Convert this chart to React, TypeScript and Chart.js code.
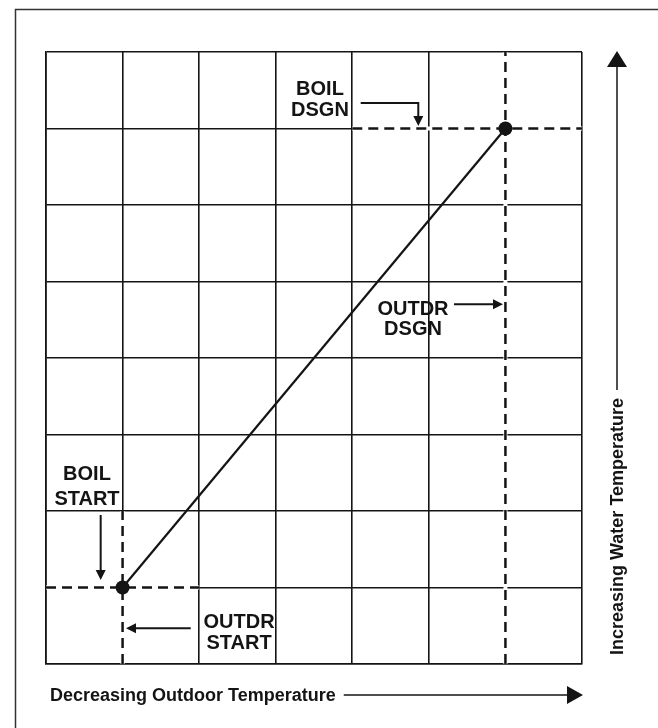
import { useEffect, useRef } from "react";
import { Chart, registerables } from "chart.js";

Chart.register(...registerables);

// ---- data ----
const gridColumns = 7;
const gridRows = 8;
const pointLabels = ["START", "DSGN"];
const outdoorTemps = [1, 6]; // start, design (decreasing outdoor temperature units)
const waterTemps = [1, 7]; // start, design (increasing water temperature units)
const axisTitleX = "Decreasing Outdoor Temperature";
const axisTitleY = "Increasing Water Temperature";
const calloutTexts = [
  ["BOIL", "DSGN"],
  ["OUTDR", "DSGN"],
  ["BOIL", "START"],
  ["OUTDR", "START"],
];
// dashed guide segments [x1, y1, x2, y2]
const guideSegments = [
  [outdoorTemps[0], 0, outdoorTemps[0], 2],
  [0, waterTemps[0], 2, waterTemps[0]],
  [outdoorTemps[1], 0, outdoorTemps[1], gridRows],
  [4, waterTemps[1], gridColumns, waterTemps[1]],
];

// ---- layout (data units) ----
const calloutPos = [
  { x: 3.578, y: [7.529, 7.261] },
  { x: 4.793, y: [4.654, 4.399] },
  { x: 0.535, y: [2.503, 2.17] },
  { x: 2.521, y: [0.569, 0.294] },
];
const calloutArrows = [
  [[4.11, 7.333], [4.862, 7.333], [4.862, 7.033]],
  [[5.328, 4.702], [5.968, 4.702]],
  [[0.714, 1.948], [0.714, 1.098]],
  [[1.89, 0.467], [1.045, 0.467]],
];

const INK = "#141414";
const FONT = '"Liberation Sans", Arial, Helvetica, sans-serif';

function drawArrow(
  ctx: CanvasRenderingContext2D,
  pts: number[][],
  headLen: number,
  headHalf: number,
  lw: number
) {
  ctx.save();
  ctx.strokeStyle = INK;
  ctx.fillStyle = INK;
  ctx.lineWidth = lw;
  ctx.lineCap = "butt";
  ctx.lineJoin = "miter";
  const n = pts.length;
  const [ex, ey] = pts[n - 1];
  const [px, py] = pts[n - 2];
  const dx = ex - px;
  const dy = ey - py;
  const len = Math.hypot(dx, dy);
  const ux = dx / len;
  const uy = dy / len;
  ctx.beginPath();
  ctx.moveTo(pts[0][0], pts[0][1]);
  for (let i = 1; i < n - 1; i++) ctx.lineTo(pts[i][0], pts[i][1]);
  ctx.lineTo(ex - ux * headLen * 0.8, ey - uy * headLen * 0.8);
  ctx.stroke();
  const bx = ex - ux * headLen;
  const by = ey - uy * headLen;
  ctx.beginPath();
  ctx.moveTo(ex, ey);
  ctx.lineTo(bx - uy * headHalf, by + ux * headHalf);
  ctx.lineTo(bx + uy * headHalf, by - ux * headHalf);
  ctx.closePath();
  ctx.fill();
  ctx.restore();
}

const decorPlugin = {
  id: "decor",
  beforeDraw(chart: any) {
    const ctx = chart.ctx as CanvasRenderingContext2D;
    ctx.save();
    ctx.fillStyle = "#ffffff";
    ctx.fillRect(0, 0, chart.width, chart.height);
    ctx.strokeStyle = "#333333";
    ctx.lineWidth = 1.5;
    ctx.strokeRect(15.5, 9.5, chart.width + 100, chart.height + 100);
    ctx.restore();
  },
  afterDraw(chart: any) {
    const ctx = chart.ctx as CanvasRenderingContext2D;
    const xs = chart.scales.x;
    const ys = chart.scales.y;
    const area = chart.chartArea;
    const fx = (v: number) => xs.getPixelForValue(v);
    const fy = (v: number) => ys.getPixelForValue(v);

    // callout labels
    ctx.save();
    ctx.fillStyle = INK;
    ctx.font = `bold 20px ${FONT}`;
    ctx.textAlign = "center";
    ctx.textBaseline = "alphabetic";
    calloutTexts.forEach((lines, i) => {
      const p = calloutPos[i];
      lines.forEach((t, j) => {
        ctx.fillText(t, fx(p.x), fy(p.y[j]) + 7.2);
      });
    });
    ctx.restore();

    // callout arrows
    calloutArrows.forEach((a) => {
      drawArrow(
        ctx,
        a.map(([x, y]) => [fx(x), fy(y)]),
        10,
        5,
        2
      );
    });

    // bottom axis title + arrow
    ctx.save();
    ctx.fillStyle = INK;
    ctx.font = `bold 18px ${FONT}`;
    ctx.textAlign = "left";
    ctx.textBaseline = "alphabetic";
    const tx = area.left + 4;
    const tBase = area.bottom + 37;
    ctx.fillText(axisTitleX, tx, tBase);
    const tw = ctx.measureText(axisTitleX).width;
    ctx.restore();
    drawArrow(
      ctx,
      [
        [tx + tw + 8, tBase - 6],
        [area.right + 1, tBase - 6],
      ],
      16,
      9,
      1.5
    );

    // right axis title + arrow
    ctx.save();
    ctx.fillStyle = INK;
    ctx.font = `bold 18px ${FONT}`;
    ctx.textAlign = "left";
    ctx.textBaseline = "alphabetic";
    const vx = area.right + 41;
    const vy = area.bottom - 9;
    ctx.translate(vx, vy);
    ctx.rotate(-Math.PI / 2);
    ctx.fillText(axisTitleY, 0, 0);
    const vw = ctx.measureText(axisTitleY).width;
    ctx.restore();
    drawArrow(
      ctx,
      [
        [vx - 6, vy - vw - 8],
        [vx - 6, area.top - 1],
      ],
      16,
      10,
      1.5
    );
  },
};

export default function App() {
  const ref = useRef<HTMLCanvasElement | null>(null);
  useEffect(() => {
    if (!ref.current) return;
    const curve = outdoorTemps.map((x, i) => ({ x, y: waterTemps[i] }));
    const guides = guideSegments.map((s) => [
      { x: s[0], y: s[1] },
      { x: s[2], y: s[3] },
    ]);
    const chart = new Chart(ref.current, {
      type: "scatter",
      data: {
        datasets: [
          {
            label: pointLabels.join("-"),
            data: curve,
            showLine: true,
            borderColor: INK,
            borderWidth: 2.2,
            pointRadius: 7,
            pointBackgroundColor: INK,
            pointBorderWidth: 0,
            order: 0,
          },
          ...guides.map((d) => ({
            data: d,
            showLine: true,
            borderColor: INK,
            borderWidth: 2.5,
            borderDash: [10, 6],
            pointRadius: 0,
            order: 1,
          })),
          ...guides.map((d) => ({
            data: d,
            showLine: true,
            borderColor: "#ffffff",
            borderWidth: 4,
            pointRadius: 0,
            order: 2,
          })),
        ] as any,
      },
      options: {
        animation: false,
        responsive: false,
        devicePixelRatio: 1,
        layout: { padding: { left: 46, top: 52, right: 76, bottom: 64 } },
        plugins: {
          legend: { display: false },
          tooltip: { enabled: false },
          title: { display: false },
        },
        scales: {
          x: {
            type: "linear",
            min: 0,
            max: gridColumns,
            ticks: { display: false, stepSize: 1 },
            grid: { color: INK, lineWidth: 1.6, drawTicks: false },
            border: { display: true, color: INK, width: 1.6 },
          },
          y: {
            type: "linear",
            min: 0,
            max: gridRows,
            ticks: { display: false, stepSize: 1 },
            grid: { color: INK, lineWidth: 1.6, drawTicks: false },
            border: { display: true, color: INK, width: 1.6 },
          },
        },
      },
      plugins: [decorPlugin],
    });
    return () => chart.destroy();
  }, []);
  return (
    <div
      style={{
        position: "fixed",
        left: 0,
        top: 0,
        width: 658,
        height: 728,
        overflow: "hidden",
        background: "#fff",
      }}
    >
      <canvas
        ref={ref}
        width={658}
        height={728}
        style={{ display: "block", width: 658, height: 728 }}
      />
    </div>
  );
}
